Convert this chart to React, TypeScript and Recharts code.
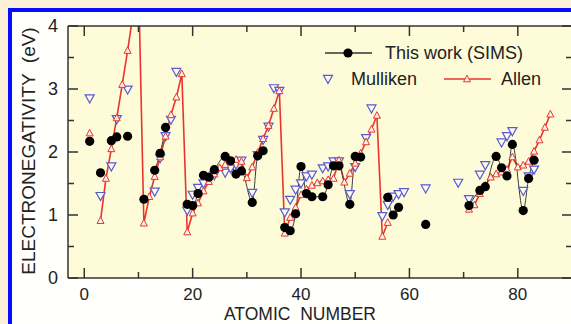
import React from 'react';
import { LineChart, Line, XAxis, YAxis, CartesianGrid } from 'recharts';

// [atomic number, electronegativity (eV)]
const allen: [number, number][] = [
    [1, 2.30], [3, 0.91], [4, 1.58], [5, 2.05], [6, 2.54], [7, 3.07], [8, 3.61], [9, 4.19], [10, 4.79],
    [11, 0.87], [12, 1.29], [13, 1.61], [14, 1.92], [15, 2.25], [16, 2.59], [17, 2.87], [18, 3.24],
    [19, 0.73], [20, 1.03], [21, 1.19], [22, 1.38], [23, 1.53], [24, 1.65], [25, 1.75], [26, 1.80],
    [27, 1.84], [28, 1.88], [29, 1.85], [30, 1.59], [31, 1.76], [32, 1.99], [33, 2.21], [34, 2.42],
    [35, 2.69], [36, 2.97], [37, 0.71], [38, 0.96], [39, 1.12], [40, 1.32], [41, 1.41], [42, 1.47],
    [43, 1.51], [44, 1.54], [45, 1.56], [46, 1.58], [47, 1.87], [48, 1.52], [49, 1.66], [50, 1.82],
    [51, 1.98], [52, 2.16], [53, 2.36], [54, 2.58], [55, 0.66], [56, 0.88],
    [71, 1.09], [72, 1.16], [73, 1.34], [74, 1.47], [75, 1.60], [76, 1.65], [77, 1.68], [78, 1.72],
    [79, 1.92], [80, 1.76], [81, 1.79], [82, 1.85], [83, 2.01], [84, 2.19], [85, 2.39], [86, 2.60],
];

const mulliken: [number, number][] = [
    [1, 2.85], [3, 1.30], [5, 1.77], [6, 2.52], [8, 2.99], [13, 1.37], [14, 1.90], [15, 2.25],
    [16, 2.51], [17, 3.27], [19, 1.07], [20, 1.32], [21, 1.43], [22, 1.50], [23, 1.57], [24, 1.63],
    [26, 1.67], [27, 1.74], [28, 1.80], [29, 1.86], [31, 1.35], [32, 1.95], [33, 2.19], [34, 2.40],
    [35, 3.01], [36, 2.97], [37, 1.04], [38, 1.24], [39, 1.40], [40, 1.50], [41, 1.61], [42, 1.64],
    [44, 1.74], [45, 1.77], [46, 1.85], [47, 1.85], [49, 1.33], [50, 1.76], [52, 2.22], [53, 2.69],
    [55, 0.98], [56, 1.16], [57, 1.29], [58, 1.33], [59, 1.36], [63, 1.42], [69, 1.51], [71, 1.25],
    [73, 1.64], [74, 1.79], [77, 2.15], [78, 2.25], [79, 2.33], [81, 1.38], [82, 1.61], [83, 1.72],
];

const sims: [number, number][] = [
    [1, 2.17], [3, 1.67], [5, 2.18], [6, 2.24], [8, 2.25], [11, 1.25], [13, 1.71], [14, 1.98], [15, 2.39],
    [19, 1.17], [20, 1.15], [21, 1.34], [22, 1.63], [23, 1.60], [24, 1.72], [26, 1.93], [27, 1.86],
    [28, 1.65], [29, 1.70], [31, 1.20], [32, 1.94], [33, 2.02],
    [37, 0.80], [38, 0.75], [39, 1.02], [40, 1.77], [41, 1.34], [42, 1.29], [44, 1.29], [45, 1.48],
    [46, 1.78], [47, 1.78], [49, 1.17], [50, 1.93], [51, 1.92],
    [56, 1.28], [57, 1.00], [58, 1.12], [63, 0.85],
    [71, 1.15], [73, 1.39], [74, 1.45], [76, 1.93], [77, 1.75], [78, 1.62], [79, 2.12], [81, 1.07],
    [82, 1.58], [83, 1.87],
];

// atomic-number ranges where the SIMS points are joined by the thin line
const simsRuns: [number, number][] = [[5, 6], [13, 15], [19, 33], [37, 51], [56, 58], [71, 83]];

const xTicks = [0, 10, 20, 30, 40, 50, 60, 70, 80];
const yTicks = [0, 0.5, 1, 1.5, 2, 2.5, 3, 3.5, 4];

const FONT = '"Liberation Sans", Arial, sans-serif';
const AXIS = '#333';
const RED = '#e8342c';
const BLUE = '#5a5ad2';

const allenMap = new Map(allen);
const mullikenMap = new Map(mulliken);
const simsMap = new Map(sims);

const rows = Array.from({ length: 86 }, (_, i) => {
    const z = i + 1;
    return {
        z,
        allen: allenMap.get(z) ?? null,
        mulliken: mullikenMap.get(z) ?? null,
        sims: simsMap.get(z) ?? null,
    };
});

const runData = simsRuns.map(([a, b]) =>
    sims.filter(([z]) => z >= a && z <= b).map(([z, v]) => ({ z, v }))
);

const UpTri = ({ cx, cy, s = 7, stroke, fill }: any) => (
    <path
        d={`M${cx},${cy - s * 0.55} L${cx + s / 2},${cy + s * 0.4} L${cx - s / 2},${cy + s * 0.4} Z`}
        stroke={stroke}
        strokeWidth={1}
        fill={fill}
    />
);

const DownTri = ({ cx, cy, s = 9, stroke, fill }: any) => (
    <path
        d={`M${cx - s / 2},${cy - s * 0.4} L${cx + s / 2},${cy - s * 0.4} L${cx},${cy + s * 0.5} Z`}
        stroke={stroke}
        strokeWidth={1.2}
        fill={fill}
    />
);

const dotOf = (draw: (cx: number, cy: number) => React.ReactElement) => (props: any) => {
    const { cx, cy, index, value } = props;
    if (value == null || cx == null || cy == null) return <g key={`n${index}`} />;
    return <g key={`d${index}`}>{draw(cx, cy)}</g>;
};

const BottomTick = ({ x, y, payload }: any) => {
    const major = payload.value % 20 === 0;
    return (
        <g>
            <line x1={x} x2={x} y1={y} y2={y - (major ? 10 : 6)} stroke={AXIS} strokeWidth={1.5} />
            {major && (
                <text x={x} y={y + 22} textAnchor="middle" fontSize={17} fontFamily={FONT} fill="#222">
                    {payload.value}
                </text>
            )}
        </g>
    );
};

const TopTick = ({ x, y, payload }: any) => {
    const major = payload.value % 20 === 0;
    return <line x1={x} x2={x} y1={y} y2={y + (major ? 10 : 6)} stroke={AXIS} strokeWidth={1.5} />;
};

const LeftTick = ({ x, y, payload }: any) => {
    const major = Number.isInteger(payload.value);
    return (
        <g>
            <line x1={x} x2={x + (major ? 10 : 6)} y1={y} y2={y} stroke={AXIS} strokeWidth={1.5} />
            {major && (
                <text x={x - 10} y={y + 6} textAnchor="end" fontSize={18} fontFamily={FONT} fill="#222">
                    {payload.value}
                </text>
            )}
        </g>
    );
};

const RightTick = ({ x, y, payload }: any) => {
    const major = Number.isInteger(payload.value);
    return <line x1={x} x2={x - (major ? 10 : 6)} y1={y} y2={y} stroke={AXIS} strokeWidth={1.5} />;
};

export default function App() {
    return (
        <div
            style={{
                position: 'fixed',
                left: 0,
                top: 0,
                width: 571,
                height: 324,
                overflow: 'hidden',
                background: '#fbefd9',
                fontFamily: FONT,
            }}
        >
            <div
                style={{
                    position: 'absolute',
                    left: 8,
                    top: 8,
                    width: 700,
                    height: 500,
                    borderLeft: '4px solid #0a0aff',
                    borderTop: '4px solid #0a0aff',
                    background: '#fffffc',
                }}
            />
            <div style={{ position: 'absolute', left: 0, top: 0 }}>
                <LineChart width={580} height={324} data={rows} margin={{ top: 10, right: 7, bottom: 6, left: 8 }}>
                    <CartesianGrid horizontal={false} vertical={false} fill="#fefcd8" fillOpacity={1} />
                    <XAxis
                        xAxisId="b"
                        dataKey="z"
                        type="number"
                        domain={[-3, 90]}
                        allowDataOverflow
                        ticks={xTicks}
                        interval={0}
                        height={40}
                        tickSize={0}
                        tickMargin={0}
                        tickLine={false}
                        axisLine={{ stroke: AXIS, strokeWidth: 1.5 }}
                        tick={<BottomTick />}
                    />
                    <XAxis
                        xAxisId="t"
                        orientation="top"
                        dataKey="z"
                        type="number"
                        domain={[-3, 90]}
                        allowDataOverflow
                        ticks={xTicks}
                        interval={0}
                        height={16}
                        tickSize={0}
                        tickMargin={0}
                        tickLine={false}
                        axisLine={{ stroke: AXIS, strokeWidth: 1.5 }}
                        tick={<TopTick />}
                    />
                    <YAxis
                        yAxisId="l"
                        type="number"
                        domain={[0, 4]}
                        allowDataOverflow
                        ticks={yTicks}
                        interval={0}
                        width={60}
                        tickSize={0}
                        tickMargin={0}
                        tickLine={false}
                        axisLine={{ stroke: AXIS, strokeWidth: 1.5 }}
                        tick={<LeftTick />}
                    />
                    <YAxis
                        yAxisId="r"
                        orientation="right"
                        type="number"
                        domain={[0, 4]}
                        allowDataOverflow
                        ticks={yTicks}
                        interval={0}
                        width={1}
                        tickSize={0}
                        tickMargin={0}
                        tickLine={false}
                        axisLine={{ stroke: AXIS, strokeWidth: 1.5 }}
                        tick={<RightTick />}
                    />
                    <Line
                        xAxisId="b"
                        yAxisId="l"
                        dataKey="mulliken"
                        stroke="none"
                        isAnimationActive={false}
                        dot={dotOf((cx, cy) => <DownTri cx={cx} cy={cy} stroke={BLUE} fill="#fbfbf0" />)}
                        activeDot={false}
                    />
                    <Line
                        xAxisId="b"
                        yAxisId="l"
                        dataKey="allen"
                        stroke={RED}
                        strokeWidth={1.6}
                        isAnimationActive={false}
                        dot={dotOf((cx, cy) => <UpTri cx={cx} cy={cy} stroke={RED} fill="#fdf3ea" />)}
                        activeDot={false}
                    />
                    {runData.map((d, i) => (
                        <Line
                            key={`run${i}`}
                            xAxisId="b"
                            yAxisId="l"
                            data={d}
                            dataKey="v"
                            type="monotone"
                            stroke="#3a3a3a"
                            strokeWidth={1}
                            dot={false}
                            activeDot={false}
                            isAnimationActive={false}
                        />
                    ))}
                    <Line
                        xAxisId="b"
                        yAxisId="l"
                        dataKey="sims"
                        stroke="none"
                        isAnimationActive={false}
                        dot={dotOf((cx, cy) => <circle cx={cx} cy={cy} r={4.6} fill="#000" />)}
                        activeDot={false}
                    />
                </LineChart>
            </div>
            <svg width={571} height={324} style={{ position: 'absolute', left: 0, top: 0 }}>
                <text
                    x={35}
                    y={151}
                    transform="rotate(-90, 35, 151)"
                    textAnchor="middle"
                    fontSize={19}
                    fontFamily={FONT}
                    fill="#222"
                    style={{ whiteSpace: 'pre' }}
                >
                    {'ELECTRONEGATIVITY  (eV)'}
                </text>
                <text x={300} y={320} textAnchor="middle" fontSize={17.5} fontFamily={FONT} fill="#222" style={{ whiteSpace: 'pre' }}>
                    {'ATOMIC  NUMBER'}
                </text>
                <line x1={325} x2={372} y1={53} y2={53} stroke="#333" strokeWidth={1.3} />
                <circle cx={348} cy={53} r={4.6} fill="#000" />
                <text x={385} y={59} fontSize={18} fontFamily={FONT} fill="#222">This work (SIMS)</text>
                <DownTri cx={328} cy={79} stroke={BLUE} fill="#fbfbf0" />
                <text x={351} y={85} fontSize={18} fontFamily={FONT} fill="#222">Mulliken</text>
                <line x1={444} x2={491} y1={79} y2={79} stroke={RED} strokeWidth={1.6} />
                <UpTri cx={467} cy={79} stroke={RED} fill="#fdf3ea" />
                <text x={501} y={85} fontSize={18} fontFamily={FONT} fill="#222">Allen</text>
            </svg>
        </div>
    );
}
